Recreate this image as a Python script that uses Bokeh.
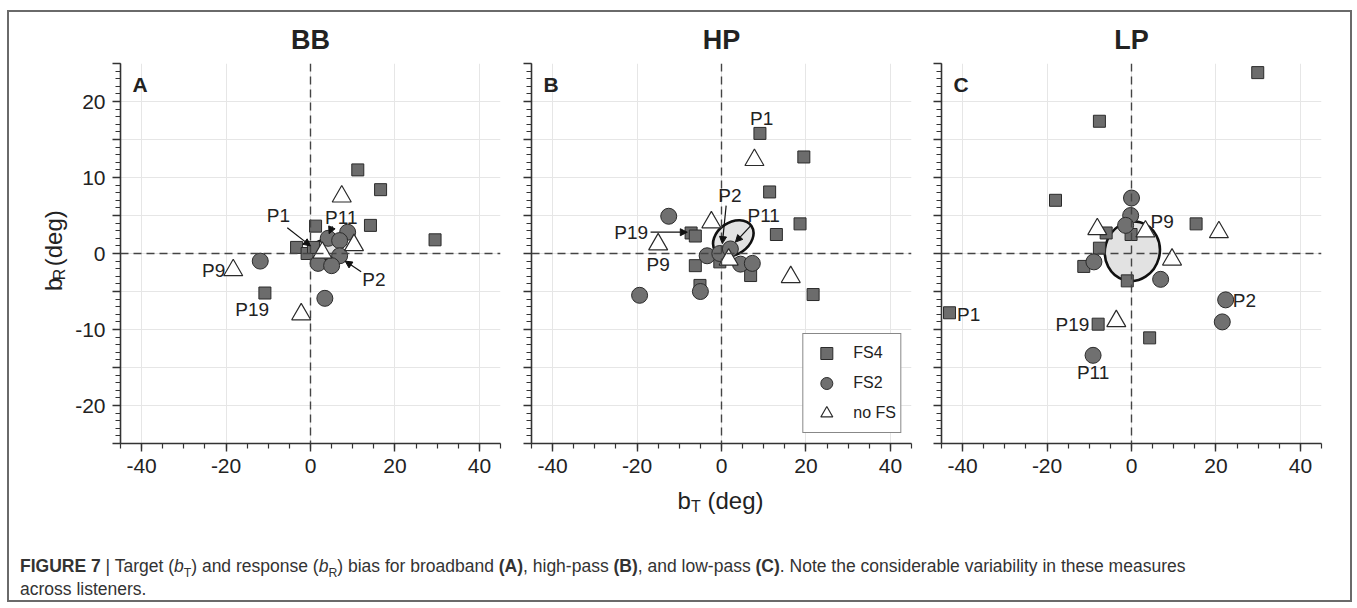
import math
from bokeh.plotting import figure
from bokeh.models import (Span, Label, Arrow, NormalHead, FixedTicker, Legend,
                          LegendItem, Div, Range1d)
from bokeh.layouts import row, column
from bokeh.embed import file_html
from bokeh.resources import INLINE

FONT = "Liberation Sans"

# ---------------- data ----------------
panel_names = ["BB", "HP", "LP"]
panel_letters = ["A", "B", "C"]

# BB (broadband)
bb_fs4_x = [11.2, 16.6, 14.2, 29.5, 1.2, -3.3, -0.8, 0.7, -10.8]
bb_fs4_y = [11.0, 8.4, 3.7, 1.8, 3.6, 0.8, 0.0, 0.8, -5.2]
bb_fs2_x = [-11.9, 3.4, 8.8, 4.2, 6.9, 6.9, 1.8, 5.0]
bb_fs2_y = [-1.0, -5.9, 2.8, 2.0, 1.7, -0.3, -1.3, -1.6]
bb_nofs_x = [7.4, 10.3, -18.3, -2.2, 2.8]
bb_nofs_y = [7.5, 1.1, -2.2, -8.0, 0.1]

# HP (high-pass)
hp_fs4_x = [9.1, 19.5, 11.4, 18.6, 13.0, -7.2, -6.2, -6.2, 6.9, 21.7, -5.1, -0.4]
hp_fs4_y = [15.8, 12.7, 8.1, 3.9, 2.5, 2.7, 2.3, -1.6, -2.9, -5.4, -4.2, -1.1]
hp_fs2_x = [-12.5, -19.4, -5.0, -3.4, -0.4, 2.1, 4.5, 7.3]
hp_fs2_y = [4.9, -5.5, -5.0, -0.3, 0.0, 0.6, -1.4, -1.3]
hp_nofs_x = [7.8, -2.4, -15.0, 16.4, 1.7]
hp_nofs_y = [12.3, 4.1, 1.2, -3.1, -0.8]

# LP (low-pass)
lp_fs4_x = [29.9, -7.6, -18.0, 15.3, -6.0, -0.1, -7.6, -11.3, -1.0, -43.1, -7.9, 4.3]
lp_fs4_y = [23.8, 17.4, 7.0, 3.9, 2.7, 2.5, 0.7, -1.7, -3.6, -7.8, -9.3, -11.1]
lp_fs2_x = [0.0, -0.2, -1.4, -8.9, 6.9, 22.3, 21.5, -9.1]
lp_fs2_y = [7.3, 5.0, 3.7, -1.1, -3.4, -6.1, -9.0, -13.4]
lp_nofs_x = [-8.1, 3.3, 20.7, 9.6, -3.6]
lp_nofs_y = [3.2, 2.9, 2.8, -0.8, -8.9]

# mean-bias ellipses: centre x, centre y, width, height, angle (rad)
bb_ellipse = [3.5, 0.5, 8.0, 2.6, 0.25]
hp_ellipse = [2.8, 2.0, 10.4, 4.2, 0.6]
lp_ellipse = [0.2, 0.3, 14.2, 7.2, 1.31]

# listener labels: text, x, y, align
bb_labels = [("P1", -7.6, 5.0, "center"), ("P11", 7.3, 4.8, "center"),
             ("P2", 15.0, -3.4, "center"), ("P9", -20.2, -2.2, "right"),
             ("P19", -13.8, -7.4, "center")]
hp_labels = [("P1", 9.5, 17.8, "center"), ("P2", 2.0, 7.6, "center"),
             ("P11", 10.0, 5.0, "center"), ("P19", -21.4, 2.7, "center"),
             ("P9", -15.0, -1.4, "center")]
lp_labels = [("P9", 4.5, 4.2, "left"), ("P2", 24.0, -6.2, "left"),
             ("P1", -41.3, -8.0, "left"), ("P19", -10.0, -9.3, "right"),
             ("P11", -9.1, -15.6, "center")]

# arrows: x_start, y_start, x_end, y_end
bb_arrows = [(-5.5, 3.4, 0.0, 1.0), (5.2, 3.6, 4.4, 2.6), (12.0, -2.4, 8.2, -1.0)]
hp_arrows = [(1.1, 6.3, 0.2, 1.3), (7.0, 3.7, 3.3, 1.5), (-16.8, 2.8, -8.1, 2.8)]
lp_arrows = []

x_ticks = [-40, -20, 0, 20, 40]
y_ticks = [-25, -20, -15, -10, -5, 0, 5, 10, 15, 20, 25]
y_tick_labels = {-20: "-20", -10: "-10", 0: "0", 10: "10", 20: "20"}

SQ_FILL, CI_FILL = "#6c6c6c", "#707070"
EDGE = "#2b2b2b"
TXT = "#222222"

TOP, FRAME, BOTTOM = 51, 380, 45
ROW_H = TOP + FRAME + BOTTOM
YLAB_W = 62


def make_panel(name, letter, sx, sy, cx, cy, tx, ty, ell, labels, arrows,
               show_ylab, border_left, border_right, legend=False):
    p = figure(frame_width=FRAME, frame_height=FRAME,
               min_border_left=border_left, min_border_right=border_right,
               min_border_top=TOP, min_border_bottom=BOTTOM,
               x_range=Range1d(-45, 45), y_range=Range1d(-25, 25),
               output_backend="svg", toolbar_location=None,
               background_fill_color="white", border_fill_color="white")
    p.outline_line_color = None
    p.title.text = name
    p.title.align = "center"
    p.title.text_font = FONT
    p.title.text_font_size = "27px"
    p.title.text_font_style = "bold"
    p.title.text_color = TXT
    p.title.standoff = 18

    for g in (p.xgrid, p.ygrid):
        g.grid_line_color = "#e6e6e6"
        g.grid_line_width = 1

    p.xaxis.ticker = FixedTicker(ticks=x_ticks, minor_ticks=list(range(-45, 46, 5)))
    p.yaxis.ticker = FixedTicker(ticks=y_ticks, minor_ticks=list(range(-25, 26, 1)))
    p.xaxis.major_label_overrides = {t: str(t) for t in x_ticks}
    if show_ylab:
        p.yaxis.major_label_overrides = {t: y_tick_labels.get(t, "") for t in y_ticks}
    else:
        p.yaxis.major_label_overrides = {t: "" for t in y_ticks}
    for ax in (p.xaxis, p.yaxis):
        ax.axis_line_color = "#333333"
        ax.axis_line_width = 1.6
        ax.major_tick_line_color = "#333333"
        ax.minor_tick_line_color = "#333333"
        ax.major_tick_line_width = 1.4
        ax.minor_tick_line_width = 1.2
        ax.major_tick_out = 8
        ax.major_tick_in = 0
        ax.minor_tick_out = 5
        ax.minor_tick_in = 0
        ax.major_label_text_font = FONT
        ax.major_label_text_font_size = "21px"
        ax.major_label_text_color = TXT
        ax.major_label_standoff = 7

    for dim in ("height", "width"):
        p.add_layout(Span(location=0, dimension=dim, line_color="#444444",
                          line_width=1.4, line_dash="8 5"))

    p.ellipse(x=[ell[0]], y=[ell[1]], width=[ell[2]], height=[ell[3]], angle=[ell[4]],
              fill_color="#e2e2e2", line_color="#111111", line_width=2.6)

    r_sq = p.scatter(sx, sy, marker="square", size=12, fill_color=SQ_FILL,
                     line_color=EDGE, line_width=1)
    r_ci = p.scatter(cx, cy, marker="circle", size=16, fill_color=CI_FILL,
                     line_color=EDGE, line_width=1)
    r_tr = p.scatter(tx, ty, marker="triangle", size=19, fill_color="white",
                     line_color=EDGE, line_width=1.2)

    for (x0, y0, x1, y1) in arrows:
        p.add_layout(Arrow(x_start=x0, y_start=y0, x_end=x1, y_end=y1,
                           line_color="#111111", line_width=1.2,
                           end=NormalHead(size=7, fill_color="#111111",
                                          line_color="#111111")))
    for (t, x, y, al) in labels:
        p.add_layout(Label(x=x, y=y, text=t, text_align=al, text_baseline="middle",
                           text_font=FONT, text_font_size="19px", text_color=TXT))

    p.add_layout(Label(x=-45, y=25, x_offset=12, y_offset=-9, text=letter,
                       text_align="left", text_baseline="top", text_font=FONT,
                       text_font_size="21px", text_font_style="bold", text_color=TXT))

    if legend:
        lg = Legend(items=[LegendItem(label="FS4", renderers=[r_sq]),
                           LegendItem(label="FS2", renderers=[r_ci]),
                           LegendItem(label="no FS", renderers=[r_tr])],
                    location="bottom_right")
        lg.border_line_color = "#111111"
        lg.border_line_width = 1
        lg.background_fill_color = "white"
        lg.background_fill_alpha = 1
        lg.label_text_font = FONT
        lg.label_text_font_size = "16px"
        lg.label_text_color = TXT
        lg.glyph_width = 38
        lg.glyph_height = 30
        lg.spacing = -4
        lg.padding = 4
        lg.margin = 10
        lg.label_standoff = 8
        p.add_layout(lg)
    return p


def blank_fig(w, h):
    f = figure(width=w, height=h, min_border=0, x_range=Range1d(0, w),
               y_range=Range1d(0, h), x_axis_location=None, y_axis_location=None,
               output_backend="svg", toolbar_location=None,
               background_fill_color="white", border_fill_color="white")
    f.outline_line_color = None
    f.grid.visible = False
    return f


# y-axis label  b_R (deg)  (pixel coordinates of its own strip)
pY = blank_fig(YLAB_W, ROW_H)
ybase = dict(angle=math.pi / 2, text_align="left", text_baseline="middle",
             text_font=FONT, text_color=TXT)
pY.add_layout(Label(x=44, y=191, text="b", text_font_size="24px", **ybase))
pY.add_layout(Label(x=50, y=204.5, text="R", text_font_size="16px", **ybase))
pY.add_layout(Label(x=44, y=222, text="(deg)", text_font_size="24px", **ybase))

pA = make_panel("BB", "A", bb_fs4_x, bb_fs4_y, bb_fs2_x, bb_fs2_y, bb_nofs_x, bb_nofs_y,
                bb_ellipse, bb_labels, bb_arrows, True, 120 - 9 - YLAB_W, 5)
pB = make_panel("HP", "B", hp_fs4_x, hp_fs4_y, hp_fs2_x, hp_fs2_y, hp_nofs_x, hp_nofs_y,
                hp_ellipse, hp_labels, hp_arrows, False, 26, 5, legend=True)
pC = make_panel("LP", "C", lp_fs4_x, lp_fs4_y, lp_fs2_x, lp_fs2_y, lp_nofs_x, lp_nofs_y,
                lp_ellipse, lp_labels, lp_arrows, False, 25, 29)

# x-axis label  b_T (deg)
XLAB_W, XLAB_H = 1341, 40
pX = blank_fig(XLAB_W, XLAB_H)
xbase = dict(text_align="left", text_baseline="middle", text_font=FONT, text_color=TXT)
pX.add_layout(Label(x=668, y=28, text="b", text_font_size="24px", **xbase))
pX.add_layout(Label(x=681.5, y=22, text="T", text_font_size="16px", **xbase))
pX.add_layout(Label(x=698, y=28, text="(deg)", text_font_size="24px", **xbase))

SUB = '<sub style="line-height:0;font-size:70%">'
caption = Div(
    text=("<b>FIGURE 7</b> | Target (<i>b</i>" + SUB + "T</sub>) and response (<i>b</i>"
          + SUB + "R</sub>) bias for broadband <b>(A)</b>, high-pass <b>(B)</b>, and "
          "low-pass <b>(C)</b>. Note the considerable variability in these measures"
          "<br>across listeners."),
    width=1320, height=72, margin=0,
    styles={"font-family": "'Liberation Sans', Arial, sans-serif", "font-size": "17.5px",
            "color": "#333333", "line-height": "23px", "padding-left": "11px",
            "padding-top": "27px"})

layout = column(row(pY, pA, pB, pC, spacing=0), pX, caption, spacing=0,
                margin=(10, 0, 0, 7), styles={"border": "2px solid #6a6a6a"})

open("out.html", "w").write(file_html(layout, INLINE))
